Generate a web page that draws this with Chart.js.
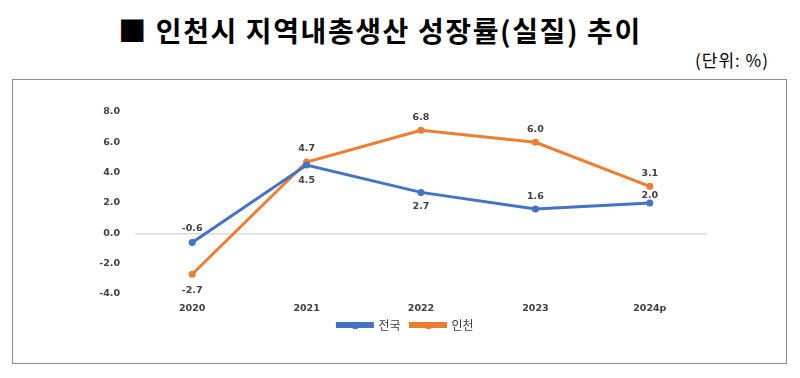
<!DOCTYPE html>
<html>
<head>
<meta charset="utf-8">
<script src="https://cdn.jsdelivr.net/npm/chart.js@4.4.1/dist/chart.umd.min.js"></script>
<style>
  html, body { margin: 0; padding: 0; background: #fff; }
  body { width: 800px; height: 378px; position: relative; overflow: hidden; font-family: "Noto Sans CJK KR", sans-serif; }
  #title { position: absolute; left: 0; width: 760px; top: 10px; text-align: center; font-size: 28px; font-weight: bold; color: #000; letter-spacing: 1.6px; }
  #unit { position: absolute; right: 31px; top: 47px; font-size: 17px; color: #000; letter-spacing: 1px; }
  #box { position: absolute; left: 12px; top: 79px; width: 775px; height: 285px; border: 1px solid #8c8c8c; box-sizing: border-box; }
  #wrap { position: absolute; left: 13px; top: 80px; width: 773px; height: 283px; }
</style>
</head>
<body>
<div id="title">■ 인천시 지역내총생산 성장률(실질) 추이</div>
<div id="unit">(단위: %)</div>
<div id="box"></div>
<div id="wrap"><canvas id="chart"></canvas></div>
<script>
const years = ['2020', '2021', '2022', '2023', '2024p'];
const nationVals = [-0.6, 4.5, 2.7, 1.6, 2.0];
const incheonVals = [-2.7, 4.7, 6.8, 6.0, 3.1];
const yTicks = [-4, -2, 0, 2, 4, 6, 8];

const BLUE = '#4472c4';
const ORANGE = '#ed7d31';
const LEGEND_PAD = 10;
const LEGEND_FONT = 12;

// value labels; offsets in px from the point (negative = above)
const pointLabels = {
  id: 'pointLabels',
  afterDatasetsDraw(chart, args, opts) {
    const ctx = chart.ctx;
    ctx.save();
    ctx.font = 'bold 9.5px "DejaVu Sans"';
    ctx.fillStyle = '#404040';
    ctx.textAlign = 'center';
    ctx.textBaseline = 'middle';
    chart.data.datasets.forEach((ds, i) => {
      chart.getDatasetMeta(i).data.forEach((pt, j) => {
        ctx.fillText(ds.data[j].toFixed(1), pt.x, pt.y + opts.offsets[i][j]);
      });
    });
    ctx.restore();
  }
};

// pull the legend up a bit, closer to the x labels
const legendShift = {
  id: 'legendShift',
  afterLayout(chart) {
    if (!chart.legend) return;
    chart.legend.top -= 9;
    chart.legend.bottom -= 9;
  }
};

// dot in the middle of each legend line
const legendDots = {
  id: 'legendDots',
  afterDraw(chart) {
    const lg = chart.legend;
    if (!lg || !lg.legendHitBoxes) return;
    const ctx = chart.ctx;
    const y = lg.top + LEGEND_PAD + LEGEND_FONT / 2 + 0.5;
    lg.legendHitBoxes.forEach((hb, i) => {
      const ds = chart.data.datasets[i];
      ctx.save();
      ctx.fillStyle = ds.borderColor;
      ctx.beginPath();
      ctx.arc(hb.left + 18, y, 3.8, 0, Math.PI * 2);
      ctx.fill();
      ctx.restore();
    });
  }
};

const tickFont = { family: 'DejaVu Sans', size: 9.5, weight: 'bold' };

new Chart(document.getElementById('chart'), {
  type: 'line',
  data: {
    labels: years,
    datasets: [
      { label: '전국', data: nationVals, borderColor: BLUE, backgroundColor: BLUE, borderWidth: 3, pointRadius: 3.5, pointBorderWidth: 0, tension: 0 },
      { label: '인천', data: incheonVals, borderColor: ORANGE, backgroundColor: ORANGE, borderWidth: 3, pointRadius: 3.5, pointBorderWidth: 0, tension: 0 }
    ]
  },
  options: {
    responsive: true,
    maintainAspectRatio: false,
    animation: false,
    layout: { padding: { left: 12, right: 0, top: 32, bottom: 13 } },
    scales: {
      x: {
        offset: true,
        grid: { display: false, drawTicks: false },
        border: { display: false },
        ticks: { color: '#404040', font: tickFont, padding: 9 },
        afterFit(s) { s.height = 24; }
      },
      y: {
        min: -4,
        max: 8,
        afterBuildTicks(s) { s.ticks = yTicks.map(v => ({ value: v })); },
        grid: { color: c => c.tick && c.tick.value === 0 ? '#d9d9d9' : 'rgba(0,0,0,0)', drawTicks: false, lineWidth: 1.5 },
        border: { display: false },
        ticks: { color: '#404040', font: tickFont, padding: 15, callback: v => v.toFixed(1) },
        afterFit(s) { s.width = 110; }
      },
      yr: {
        type: 'linear',
        position: 'right',
        grid: { display: false },
        border: { display: false },
        ticks: { display: false },
        afterFit(s) { s.width = 79; }
      }
    },
    plugins: {
      legend: {
        position: 'bottom',
        labels: {
          boxWidth: 35,
          boxHeight: 3,
          padding: LEGEND_PAD,
          color: '#404040',
          font: { family: 'Noto Sans CJK KR', size: LEGEND_FONT }
        }
      },
      tooltip: { enabled: false },
      pointLabels: {
        offsets: [[-14, 15, 14, -13, -7], [16, -14, -13, -13, -13]]
      }
    }
  },
  plugins: [pointLabels, legendShift, legendDots]
});
</script>
</body>
</html>
